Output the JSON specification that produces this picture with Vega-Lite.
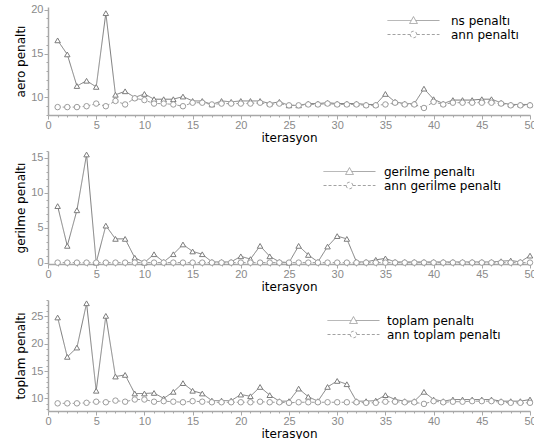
{
  "$schema": "https://vega.github.io/schema/vega-lite/v6.json",
  "padding": {"left": 14, "top": 3, "right": 0, "bottom": 0},
  "background": "white",
  "spacing": 2,
  "datasets": {
    "aero": [
      {"i":1,"ns":16.5,"ann":8.9},{"i":2,"ns":14.9,"ann":8.9},{"i":3,"ns":11.3,"ann":8.9},{"i":4,"ns":11.9,"ann":9.0},{"i":5,"ns":11.2,"ann":9.3},
      {"i":6,"ns":19.6,"ann":9.0},{"i":7,"ns":10.3,"ann":9.6},{"i":8,"ns":10.7,"ann":9.2},{"i":9,"ns":10.0,"ann":9.9},{"i":10,"ns":10.4,"ann":9.7},
      {"i":11,"ns":9.8,"ann":9.3},{"i":12,"ns":9.8,"ann":9.3},{"i":13,"ns":9.8,"ann":9.2},{"i":14,"ns":10.1,"ann":9.0},{"i":15,"ns":9.6,"ann":9.4},
      {"i":16,"ns":9.6,"ann":9.4},{"i":17,"ns":9.2,"ann":9.2},{"i":18,"ns":9.6,"ann":9.3},{"i":19,"ns":9.5,"ann":9.3},{"i":20,"ns":9.6,"ann":9.3},
      {"i":21,"ns":9.6,"ann":9.3},{"i":22,"ns":9.6,"ann":9.4},{"i":23,"ns":9.3,"ann":9.2},{"i":24,"ns":9.5,"ann":9.3},{"i":25,"ns":9.1,"ann":9.1},
      {"i":26,"ns":9.1,"ann":9.1},{"i":27,"ns":9.3,"ann":9.2},{"i":28,"ns":9.3,"ann":9.2},{"i":29,"ns":9.4,"ann":9.3},{"i":30,"ns":9.3,"ann":9.2},
      {"i":31,"ns":9.3,"ann":9.2},{"i":32,"ns":9.3,"ann":9.2},{"i":33,"ns":9.2,"ann":9.1},{"i":34,"ns":9.2,"ann":9.1},{"i":35,"ns":10.4,"ann":9.2},
      {"i":36,"ns":9.5,"ann":9.4},{"i":37,"ns":9.3,"ann":9.2},{"i":38,"ns":9.3,"ann":9.2},{"i":39,"ns":11.0,"ann":8.8},{"i":40,"ns":9.8,"ann":9.5},
      {"i":41,"ns":9.3,"ann":9.2},{"i":42,"ns":9.7,"ann":9.4},{"i":43,"ns":9.7,"ann":9.4},{"i":44,"ns":9.7,"ann":9.4},{"i":45,"ns":9.8,"ann":9.4},
      {"i":46,"ns":9.8,"ann":9.4},{"i":47,"ns":9.4,"ann":9.3},{"i":48,"ns":9.2,"ann":9.1},{"i":49,"ns":9.2,"ann":9.1},{"i":50,"ns":9.2,"ann":9.1}
    ],
    "gerilme": [
      {"i":1,"ns":8.1,"ann":0},{"i":2,"ns":2.4,"ann":0},{"i":3,"ns":7.5,"ann":0},{"i":4,"ns":15.5,"ann":0},{"i":5,"ns":0,"ann":0},
      {"i":6,"ns":5.3,"ann":0},{"i":7,"ns":3.4,"ann":0},{"i":8,"ns":3.4,"ann":0},{"i":9,"ns":0.7,"ann":0},{"i":10,"ns":0,"ann":0},
      {"i":11,"ns":1.2,"ann":0},{"i":12,"ns":0.1,"ann":0},{"i":13,"ns":1.2,"ann":0},{"i":14,"ns":2.6,"ann":0},{"i":15,"ns":1.6,"ann":0},
      {"i":16,"ns":1.2,"ann":0},{"i":17,"ns":0.1,"ann":0},{"i":18,"ns":0.1,"ann":0},{"i":19,"ns":0.1,"ann":0},{"i":20,"ns":0.9,"ann":0},
      {"i":21,"ns":0.5,"ann":0},{"i":22,"ns":2.4,"ann":0},{"i":23,"ns":0.9,"ann":0},{"i":24,"ns":0.1,"ann":0},{"i":25,"ns":0,"ann":0},
      {"i":26,"ns":2.4,"ann":0},{"i":27,"ns":1.1,"ann":0},{"i":28,"ns":0.1,"ann":0},{"i":29,"ns":2.3,"ann":0},{"i":30,"ns":3.8,"ann":0},
      {"i":31,"ns":3.4,"ann":0},{"i":32,"ns":0.1,"ann":0},{"i":33,"ns":0.1,"ann":0},{"i":34,"ns":0.4,"ann":0},{"i":35,"ns":0.6,"ann":0},
      {"i":36,"ns":0.1,"ann":0},{"i":37,"ns":0.1,"ann":0},{"i":38,"ns":0.1,"ann":0},{"i":39,"ns":0.1,"ann":0},{"i":40,"ns":0.1,"ann":0},
      {"i":41,"ns":0.1,"ann":0},{"i":42,"ns":0.1,"ann":0},{"i":43,"ns":0.1,"ann":0},{"i":44,"ns":0.1,"ann":0},{"i":45,"ns":0.1,"ann":0},
      {"i":46,"ns":0.1,"ann":0},{"i":47,"ns":0.2,"ann":0},{"i":48,"ns":0.3,"ann":0},{"i":49,"ns":0.1,"ann":0},{"i":50,"ns":1.0,"ann":0}
    ],
    "toplam": [
      {"i":1,"ns":24.8,"ann":9.1},{"i":2,"ns":17.6,"ann":9.1},{"i":3,"ns":19.3,"ann":9.1},{"i":4,"ns":27.4,"ann":9.2},{"i":5,"ns":11.4,"ann":9.4},
      {"i":6,"ns":25.1,"ann":9.3},{"i":7,"ns":14.0,"ann":9.6},{"i":8,"ns":14.3,"ann":9.4},{"i":9,"ns":10.9,"ann":9.8},{"i":10,"ns":10.9,"ann":9.8},
      {"i":11,"ns":11.0,"ann":9.4},{"i":12,"ns":10.0,"ann":9.5},{"i":13,"ns":11.2,"ann":9.4},{"i":14,"ns":12.8,"ann":9.3},{"i":15,"ns":11.4,"ann":9.5},
      {"i":16,"ns":10.9,"ann":9.4},{"i":17,"ns":9.6,"ann":9.3},{"i":18,"ns":9.6,"ann":9.3},{"i":19,"ns":9.6,"ann":9.3},{"i":20,"ns":10.7,"ann":9.3},
      {"i":21,"ns":10.4,"ann":9.3},{"i":22,"ns":12.1,"ann":9.4},{"i":23,"ns":10.6,"ann":9.3},{"i":24,"ns":9.5,"ann":9.3},{"i":25,"ns":9.5,"ann":9.2},
      {"i":26,"ns":11.8,"ann":9.3},{"i":27,"ns":10.3,"ann":9.3},{"i":28,"ns":9.5,"ann":9.3},{"i":29,"ns":12.1,"ann":9.3},{"i":30,"ns":13.2,"ann":9.3},
      {"i":31,"ns":12.6,"ann":9.3},{"i":32,"ns":9.5,"ann":9.3},{"i":33,"ns":9.5,"ann":9.2},{"i":34,"ns":9.6,"ann":9.2},{"i":35,"ns":10.6,"ann":9.4},
      {"i":36,"ns":9.8,"ann":9.4},{"i":37,"ns":9.5,"ann":9.3},{"i":38,"ns":9.5,"ann":9.3},{"i":39,"ns":11.2,"ann":9.0},{"i":40,"ns":9.8,"ann":9.5},
      {"i":41,"ns":9.5,"ann":9.3},{"i":42,"ns":9.8,"ann":9.4},{"i":43,"ns":9.8,"ann":9.4},{"i":44,"ns":9.8,"ann":9.5},{"i":45,"ns":9.8,"ann":9.5},
      {"i":46,"ns":9.8,"ann":9.5},{"i":47,"ns":9.5,"ann":9.3},{"i":48,"ns":9.5,"ann":9.2},{"i":49,"ns":9.5,"ann":9.2},{"i":50,"ns":9.8,"ann":9.2}
    ]
  },
  "vconcat": [
    {
      "width": 482, "height": 108,
      "data": {"name": "aero"},
      "transform": [{"fold": ["ns", "ann"], "as": ["series", "value"]}],
      "encoding": {
        "x": {"field": "i", "type": "quantitative", "scale": {"domain": [0, 50], "nice": false},
          "axis": {"title": "iterasyon", "values": [0,1,2,3,4,5,6,7,8,9,10,11,12,13,14,15,16,17,18,19,20,21,22,23,24,25,26,27,28,29,30,31,32,33,34,35,36,37,38,39,40,41,42,43,44,45,46,47,48,49,50],
            "labelExpr": "datum.value % 5 == 0 ? datum.label : ''", "tickSize": {"condition": {"test": "datum.value % 5 == 0", "value": 4}, "value": 2}}},
        "y": {"field": "value", "type": "quantitative", "scale": {"domain": [8, 20.3], "nice": false, "zero": false},
          "axis": {"title": "aero penaltı", "values": [8,9,10,11,12,13,14,15,16,17,18,19,20],
            "labelExpr": "datum.value % 5 == 0 ? datum.label : ''", "tickSize": {"condition": {"test": "datum.value % 5 == 0", "value": 4}, "value": 2}}}
      },
      "layer": [
        {"mark": {"type": "line", "strokeWidth": 1},
          "encoding": {
            "color": {"field": "series", "type": "nominal", "scale": {"domain": ["ns", "ann"], "range": ["#7c7c7c", "#9c9c9c"]}, "legend": null},
            "strokeDash": {"field": "series", "type": "nominal", "scale": {"domain": ["ns", "ann"], "range": [[1, 0], [3, 2]]}, "legend": null}}},
        {"mark": {"type": "point", "filled": true, "fill": "white", "size": 30, "strokeWidth": 1, "opacity": 1},
          "encoding": {
            "shape": {"field": "series", "type": "nominal", "scale": {"domain": ["ns", "ann"], "range": ["triangle-up", "circle"]}, "legend": null},
            "stroke": {"field": "series", "type": "nominal", "scale": {"domain": ["ns", "ann"], "range": ["#7c7c7c", "#9c9c9c"]}, "legend": null}}},
        {"data": {"values": []},
          "mark": {"type": "point", "filled": false, "color": "#7c7c7c", "size": 144, "strokeWidth": 1},
          "encoding": {
            "shape": {"field": "lab", "type": "nominal", "scale": {"domain": ["ns penaltı", "ann penaltı"], "range": ["M-4.33,0L-0.4,0M0.4,0L4.33,0M0,-0.65L0.65,0.5L-0.65,0.5Z", "M-4.33,0L-0.55,0M0.55,0L4.33,0M-0.55,0A0.55,0.55 0 1,0 0.55,0A0.55,0.55 0 1,0 -0.55,0Z"]},
              "legend": {"title": null, "orient": "none", "legendX": 359, "legendY": 7, "labelOffset": 31}},
            "strokeDash": {"field": "lab", "type": "nominal", "scale": {"domain": ["ns penaltı", "ann penaltı"], "range": [[1, 0], [3, 2]]},
              "legend": {"title": null, "orient": "none", "legendX": 359, "legendY": 7, "labelOffset": 31}}}}
      ],
      "resolve": {"scale": {"shape": "independent", "strokeDash": "independent"}}
    },
    {
      "width": 482, "height": 113,
      "data": {"name": "gerilme"},
      "transform": [{"fold": ["ns", "ann"], "as": ["series", "value"]}],
      "encoding": {
        "x": {"field": "i", "type": "quantitative", "scale": {"domain": [0, 50], "nice": false},
          "axis": {"title": "iterasyon", "values": [0,1,2,3,4,5,6,7,8,9,10,11,12,13,14,15,16,17,18,19,20,21,22,23,24,25,26,27,28,29,30,31,32,33,34,35,36,37,38,39,40,41,42,43,44,45,46,47,48,49,50],
            "labelExpr": "datum.value % 5 == 0 ? datum.label : ''", "tickSize": {"condition": {"test": "datum.value % 5 == 0", "value": 4}, "value": 2}}},
        "y": {"field": "value", "type": "quantitative", "scale": {"domain": [-0.2, 16], "nice": false, "zero": false},
          "axis": {"title": "gerilme penaltı", "values": [0,1,2,3,4,5,6,7,8,9,10,11,12,13,14,15,16],
            "labelExpr": "datum.value % 5 == 0 ? datum.label : ''", "tickSize": {"condition": {"test": "datum.value % 5 == 0", "value": 4}, "value": 2}}}
      },
      "layer": [
        {"mark": {"type": "line", "strokeWidth": 1},
          "encoding": {
            "color": {"field": "series", "type": "nominal", "scale": {"domain": ["ns", "ann"], "range": ["#7c7c7c", "#9c9c9c"]}, "legend": null},
            "strokeDash": {"field": "series", "type": "nominal", "scale": {"domain": ["ns", "ann"], "range": [[1, 0], [3, 2]]}, "legend": null}}},
        {"mark": {"type": "point", "filled": true, "fill": "white", "size": 30, "strokeWidth": 1, "opacity": 1},
          "encoding": {
            "shape": {"field": "series", "type": "nominal", "scale": {"domain": ["ns", "ann"], "range": ["triangle-up", "circle"]}, "legend": null},
            "stroke": {"field": "series", "type": "nominal", "scale": {"domain": ["ns", "ann"], "range": ["#7c7c7c", "#9c9c9c"]}, "legend": null}}},
        {"data": {"values": []},
          "mark": {"type": "point", "filled": false, "color": "#7c7c7c", "size": 144, "strokeWidth": 1},
          "encoding": {
            "shape": {"field": "lab", "type": "nominal", "scale": {"domain": ["gerilme penaltı", "ann gerilme penaltı"], "range": ["M-4.33,0L-0.4,0M0.4,0L4.33,0M0,-0.65L0.65,0.5L-0.65,0.5Z", "M-4.33,0L-0.55,0M0.55,0L4.33,0M-0.55,0A0.55,0.55 0 1,0 0.55,0A0.55,0.55 0 1,0 -0.55,0Z"]},
              "legend": {"title": null, "orient": "none", "legendX": 295, "legendY": 14, "labelOffset": 28}},
            "strokeDash": {"field": "lab", "type": "nominal", "scale": {"domain": ["gerilme penaltı", "ann gerilme penaltı"], "range": [[1, 0], [3, 2]]},
              "legend": {"title": null, "orient": "none", "legendX": 295, "legendY": 14, "labelOffset": 28}}}}
      ],
      "resolve": {"scale": {"shape": "independent", "strokeDash": "independent"}}
    },
    {
      "width": 482, "height": 111,
      "data": {"name": "toplam"},
      "transform": [{"fold": ["ns", "ann"], "as": ["series", "value"]}],
      "encoding": {
        "x": {"field": "i", "type": "quantitative", "scale": {"domain": [0, 50], "nice": false},
          "axis": {"title": "iterasyon", "values": [0,1,2,3,4,5,6,7,8,9,10,11,12,13,14,15,16,17,18,19,20,21,22,23,24,25,26,27,28,29,30,31,32,33,34,35,36,37,38,39,40,41,42,43,44,45,46,47,48,49,50],
            "labelExpr": "datum.value % 5 == 0 ? datum.label : ''", "tickSize": {"condition": {"test": "datum.value % 5 == 0", "value": 4}, "value": 2}}},
        "y": {"field": "value", "type": "quantitative", "scale": {"domain": [7.7, 28], "nice": false, "zero": false},
          "axis": {"title": "toplam penaltı", "values": [8,9,10,11,12,13,14,15,16,17,18,19,20,21,22,23,24,25,26,27,28],
            "labelExpr": "datum.value % 5 == 0 ? datum.label : ''", "tickSize": {"condition": {"test": "datum.value % 5 == 0", "value": 4}, "value": 2}}}
      },
      "layer": [
        {"mark": {"type": "line", "strokeWidth": 1},
          "encoding": {
            "color": {"field": "series", "type": "nominal", "scale": {"domain": ["ns", "ann"], "range": ["#7c7c7c", "#9c9c9c"]}, "legend": null},
            "strokeDash": {"field": "series", "type": "nominal", "scale": {"domain": ["ns", "ann"], "range": [[1, 0], [3, 2]]}, "legend": null}}},
        {"mark": {"type": "point", "filled": true, "fill": "white", "size": 30, "strokeWidth": 1, "opacity": 1},
          "encoding": {
            "shape": {"field": "series", "type": "nominal", "scale": {"domain": ["ns", "ann"], "range": ["triangle-up", "circle"]}, "legend": null},
            "stroke": {"field": "series", "type": "nominal", "scale": {"domain": ["ns", "ann"], "range": ["#7c7c7c", "#9c9c9c"]}, "legend": null}}},
        {"data": {"values": []},
          "mark": {"type": "point", "filled": false, "color": "#7c7c7c", "size": 144, "strokeWidth": 1},
          "encoding": {
            "shape": {"field": "lab", "type": "nominal", "scale": {"domain": ["toplam penaltı", "ann toplam penaltı"], "range": ["M-4.33,0L-0.4,0M0.4,0L4.33,0M0,-0.65L0.65,0.5L-0.65,0.5Z", "M-4.33,0L-0.55,0M0.55,0L4.33,0M-0.55,0A0.55,0.55 0 1,0 0.55,0A0.55,0.55 0 1,0 -0.55,0Z"]},
              "legend": {"title": null, "orient": "none", "legendX": 299, "legendY": 14, "labelOffset": 27}},
            "strokeDash": {"field": "lab", "type": "nominal", "scale": {"domain": ["toplam penaltı", "ann toplam penaltı"], "range": [[1, 0], [3, 2]]},
              "legend": {"title": null, "orient": "none", "legendX": 299, "legendY": 14, "labelOffset": 27}}}}
      ],
      "resolve": {"scale": {"shape": "independent", "strokeDash": "independent"}}
    }
  ],
  "config": {
    "view": {"stroke": null},
    "axis": {"grid": false, "domainColor": "#a8a8a8", "domainWidth": 1.5, "tickColor": "#a8a8a8", "labelColor": "#8a8a8a",
      "labelFont": "Liberation Sans", "labelFontSize": 11, "labelPadding": 1, "labelOverlap": false, "labelFlush": false,
      "titleFont": "DejaVu Sans", "titleFontSize": 12, "titleFontWeight": "normal", "titleColor": "#000000", "titlePadding": 2},
    "axisX": {"labelPadding": 0, "titlePadding": 2},
    "axisY": {"titlePadding": 3},
    "legend": {"padding": 0, "rowPadding": 1, "labelFont": "DejaVu Sans", "labelFontSize": 12, "labelColor": "#000000",
      "symbolSize": 144, "symbolStrokeWidth": 1, "symbolStrokeColor": "#7c7c7c"}
  }
}
